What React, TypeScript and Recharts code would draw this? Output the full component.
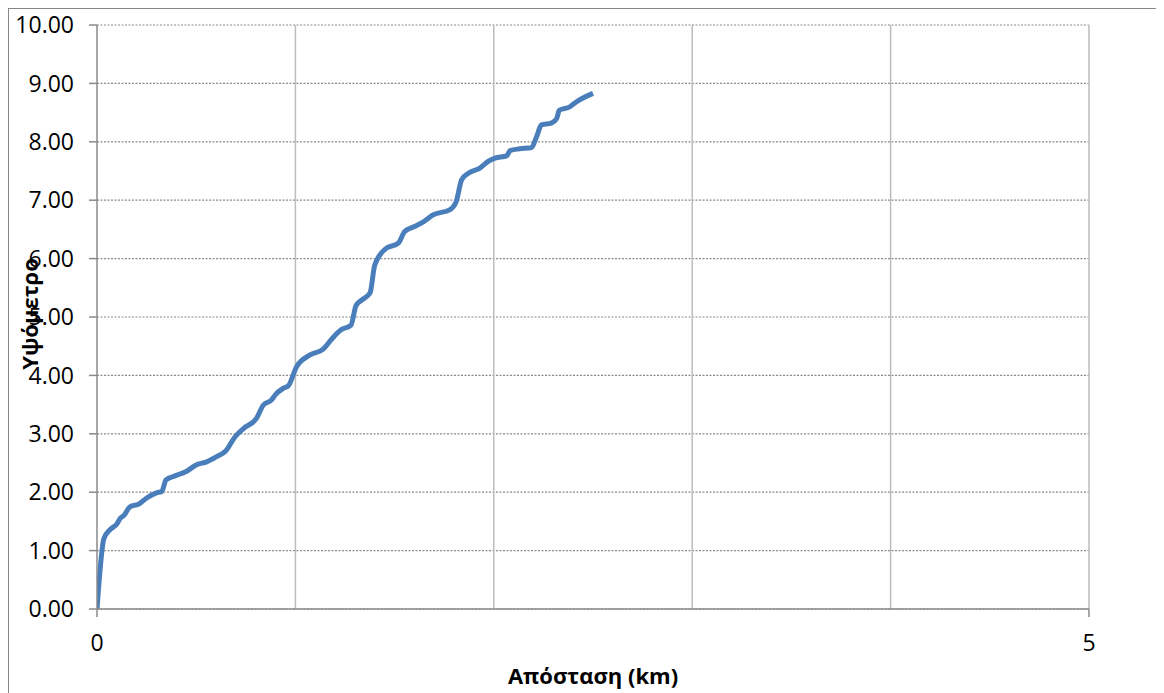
import { CartesianGrid, Line, LineChart, ReferenceLine, XAxis, YAxis } from 'recharts'

// distance in km and altitude
const distance = [
  0, 0.035, 0.066, 0.099, 0.119, 0.135, 0.166, 0.213, 0.25, 0.3, 0.326, 0.348, 0.393, 0.452, 0.502, 0.553,
  0.603, 0.65, 0.696, 0.738, 0.805, 0.838, 0.88, 0.897, 0.939, 0.964, 1.006, 1.074, 1.14, 1.18, 1.23, 1.28,
  1.305, 1.334, 1.376, 1.4, 1.452, 1.52, 1.55, 1.6, 1.645, 1.695, 1.78, 1.81, 1.838, 1.872, 1.93, 1.97,
  2.006, 2.065, 2.082, 2.13, 2.19, 2.216, 2.24, 2.29, 2.317, 2.33, 2.384, 2.41, 2.5,
]
const altitude = [
  0, 1.21, 1.36, 1.45, 1.56, 1.6, 1.75, 1.8, 1.9, 1.99, 2.01, 2.21, 2.28, 2.36, 2.47, 2.52,
  2.61, 2.71, 2.95, 3.09, 3.27, 3.49, 3.58, 3.66, 3.78, 3.82, 4.15, 4.35, 4.45, 4.61, 4.78, 4.86,
  5.19, 5.29, 5.41, 5.89, 6.16, 6.27, 6.46, 6.55, 6.63, 6.75, 6.84, 6.97, 7.35, 7.46, 7.55, 7.66,
  7.72, 7.76, 7.85, 7.88, 7.9, 8.09, 8.29, 8.32, 8.4, 8.54, 8.6, 8.67, 8.83,
]
const xTicks = [0, 5]
const xGrid = [1, 2, 3, 4, 5]
const yTicks = [0, 1, 2, 3, 4, 5, 6, 7, 8, 9, 10]

const data = distance.map((d, i) => ({ d, h: altitude[i] }))

const font = '"Open Sans", sans-serif'

export default function App() {
  return (
    <div
      style={{
        width: 1155,
        height: 684,
        borderLeft: '1px solid #868686',
        borderTop: '1px solid #868686',
        background: '#fff',
        fontFamily: font,
      }}
    >
      <LineChart width={1155} height={684} data={data} margin={{ top: 16, right: 75, bottom: 54, left: 0 }}>
        <CartesianGrid vertical={false} stroke="#8a8a8a" strokeDasharray="2 1.5" strokeWidth={1.2} />
        {xGrid.map((x) => (
          <ReferenceLine key={x} x={x} stroke="#bdbdbd" strokeWidth={1.5} />
        ))}
        <XAxis
          type="number"
          dataKey="d"
          domain={[0, 5]}
          ticks={xTicks}
          allowDataOverflow
          stroke="#8a8a8a"
          strokeWidth={1.5}
          tickSize={8}
          tickMargin={18}
          tick={{ fill: '#000', fontSize: 23, fontFamily: font }}
          height={30}
          label={{
            value: 'Απόσταση (km)',
            position: 'bottom',
            offset: 29,
            fill: '#000',
            fontSize: 22,
            fontWeight: 700,
            fontFamily: font,
          }}
        />
        <YAxis
          type="number"
          domain={[0, 10]}
          ticks={yTicks}
          width={88}
          stroke="#8a8a8a"
          strokeWidth={1.5}
          tickSize={8}
          tickMargin={15}
          tickFormatter={(v: number) => v.toFixed(2)}
          tick={{ fill: '#000', fontSize: 23, fontFamily: font }}
          label={{
            value: 'Υψόμετρο',
            angle: -90,
            position: 'center',
            dx: -23,
            dy: -3,
            fill: '#000',
            fontSize: 22,
            fontWeight: 700,
            fontFamily: font,
          }}
        />
        <Line
          type="monotone"
          dataKey="h"
          stroke="#4a7ebb"
          strokeWidth={5}
          dot={false}
          isAnimationActive={false}
        />
      </LineChart>
    </div>
  )
}
